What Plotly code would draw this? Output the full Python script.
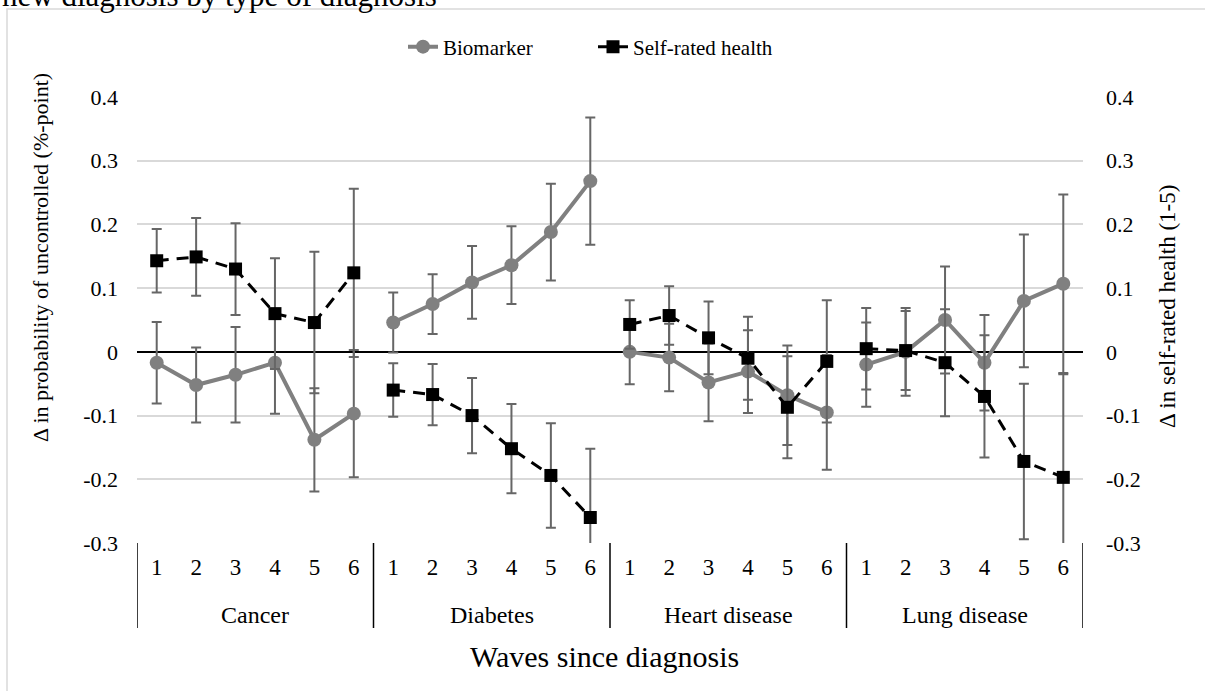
import plotly.graph_objects as go

categories = ["Cancer", "Diabetes", "Heart disease", "Lung disease"]
waves = ["1", "2", "3", "4", "5", "6"]

biomarker = [
    -0.017, -0.052, -0.036, -0.017, -0.138, -0.097,
    0.046, 0.075, 0.109, 0.136, 0.188, 0.268,
    0.000, -0.009, -0.048, -0.031, -0.068, -0.095,
    -0.020, 0.000, 0.050, -0.017, 0.080, 0.107,
]
biomarker_err = [
    0.064, 0.059, 0.075, 0.080, 0.081, 0.100,
    0.047, 0.047, 0.057, 0.061, 0.076, 0.100,
    0.051, 0.053, 0.061, 0.065, 0.078, 0.090,
    0.066, 0.069, 0.084, 0.075, 0.104, 0.140,
]
self_rated = [
    0.143, 0.149, 0.130, 0.060, 0.046, 0.124,
    -0.060, -0.067, -0.100, -0.152, -0.194, -0.260,
    0.043, 0.057, 0.022, -0.010, -0.087, -0.015,
    0.005, 0.002, -0.017, -0.070, -0.172, -0.197,
]
self_rated_err = [
    0.050, 0.061, 0.072, 0.087, 0.111, 0.132,
    0.042, 0.048, 0.059, 0.070, 0.082, 0.108,
    0.038, 0.046, 0.057, 0.065, 0.080, 0.096,
    0.064, 0.062, 0.084, 0.096, 0.122, 0.162,
]

tick_vals = [-0.3, -0.2, -0.1, 0, 0.1, 0.2, 0.3, 0.4]
tick_text = ["-0.3", "-0.2", "-0.1", "0", "0.1", "0.2", "0.3", "0.4"]

FONT = "Liberation Serif"
ERR_COLOR = "#666666"

n = len(waves)
positions = list(range(n * len(categories)))

fig = go.Figure()
for gi, cat in enumerate(categories):
    sl = slice(gi * n, (gi + 1) * n)
    fig.add_trace(go.Scatter(
        x=positions[sl], y=biomarker[sl], name="Biomarker", legendgroup="bio",
        showlegend=(gi == 0), mode="lines+markers",
        line=dict(color="#808080", width=4),
        marker=dict(symbol="circle", size=14, color="#808080"),
        error_y=dict(type="data", array=biomarker_err[sl], visible=True,
                     color=ERR_COLOR, thickness=2, width=5),
        yaxis="y",
    ))
for gi, cat in enumerate(categories):
    sl = slice(gi * n, (gi + 1) * n)
    fig.add_trace(go.Scatter(
        x=positions[sl], y=self_rated[sl], name="Self-rated health", legendgroup="srh",
        showlegend=(gi == 0), mode="lines+markers",
        line=dict(color="black", width=3, dash="12px,8px"),
        marker=dict(symbol="square", size=13, color="black"),
        error_y=dict(type="data", array=self_rated_err[sl], visible=True,
                     color=ERR_COLOR, thickness=2, width=5),
        yaxis="y2",
    ))

L, R, T, B = 137, 122, 97, 148
W, H = 1205, 691
pw, ph = W - L - R, H - T - B

def px(xp):
    return (xp - L) / pw

def py(yp):
    return (H - B - yp) / ph

shapes = [dict(type="rect", xref="paper", yref="paper",
               x0=px(7), x1=px(1215), y0=py(700), y1=py(9),
               line=dict(color="#d9d9d9", width=1.5), fillcolor="rgba(0,0,0,0)", layer="below")]
for gi in range(len(categories) + 1):
    xb = gi * n - 0.5
    shapes.append(dict(type="line", xref="x", yref="paper", x0=xb, x1=xb,
                       y0=py(543), y1=py(628), line=dict(color="black", width=1.5)))

annotations = []
for gi, cat in enumerate(categories):
    annotations.append(dict(text=cat, xref="x", yref="paper", x=gi * n + (n - 1) / 2,
                            y=py(615), xanchor="center", yanchor="middle", showarrow=False,
                            font=dict(family=FONT, size=24, color="black")))
annotations += [
    dict(text="new diagnosis by type of diagnosis", xref="paper", yref="paper",
         x=px(0), xanchor="left", y=py(-5), yanchor="middle", showarrow=False,
         font=dict(family=FONT, size=31, color="black")),
    dict(text="Waves since diagnosis", xref="paper", yref="paper",
         x=px(604), xanchor="center", y=py(656), yanchor="middle", showarrow=False,
         font=dict(family=FONT, size=30, color="black")),
    dict(text="Δ in probability of uncontrolled (%-point)", xref="paper", yref="paper",
         x=px(40), xanchor="center", y=py(258), yanchor="middle", showarrow=False,
         textangle=-90, font=dict(family=FONT, size=22, color="black")),
    dict(text="Δ in self-rated health (1-5)", xref="paper", yref="paper",
         x=px(1167), xanchor="center", y=py(307), yanchor="middle", showarrow=False,
         textangle=-90, font=dict(family=FONT, size=23, color="black")),
]

fig.update_layout(
    width=W, height=H,
    margin=dict(l=L, r=R, t=T, b=B, autoexpand=False),
    paper_bgcolor="white", plot_bgcolor="white",
    font=dict(family=FONT, size=22, color="black"),
    showlegend=True,
    legend=dict(orientation="h", x=px(403), xanchor="left", y=py(47), yanchor="middle",
                font=dict(family=FONT, size=21), bgcolor="rgba(0,0,0,0)",
                entrywidth=145, entrywidthmode="pixels", traceorder="normal"),
    xaxis=dict(
        range=[-0.5, len(positions) - 0.5], tickmode="array", tickvals=positions,
        ticktext=waves * len(categories),
        showgrid=False, showline=False, ticks="", zeroline=False,
        ticklabelstandoff=8,
        tickfont=dict(family=FONT, size=23),
    ),
    yaxis=dict(
        range=[-0.3, 0.4], tickvals=tick_vals, ticktext=tick_text,
        showgrid=True, gridcolor="#d9d9d9", gridwidth=1.5,
        zeroline=True, zerolinecolor="black", zerolinewidth=1.5,
        showline=False, ticks="", ticklabelstandoff=18,
        tickfont=dict(family=FONT, size=22),
    ),
    yaxis2=dict(
        range=[-0.3, 0.4], tickvals=tick_vals, ticktext=tick_text,
        overlaying="y", side="right", showgrid=False, zeroline=False,
        showline=False, ticks="", ticklabelstandoff=22,
        tickfont=dict(family=FONT, size=22),
    ),
    shapes=shapes,
    annotations=annotations,
)

fig.write_html("out.html", config={"displayModeBar": False},
               post_script="document.body.style.margin='0px';")
